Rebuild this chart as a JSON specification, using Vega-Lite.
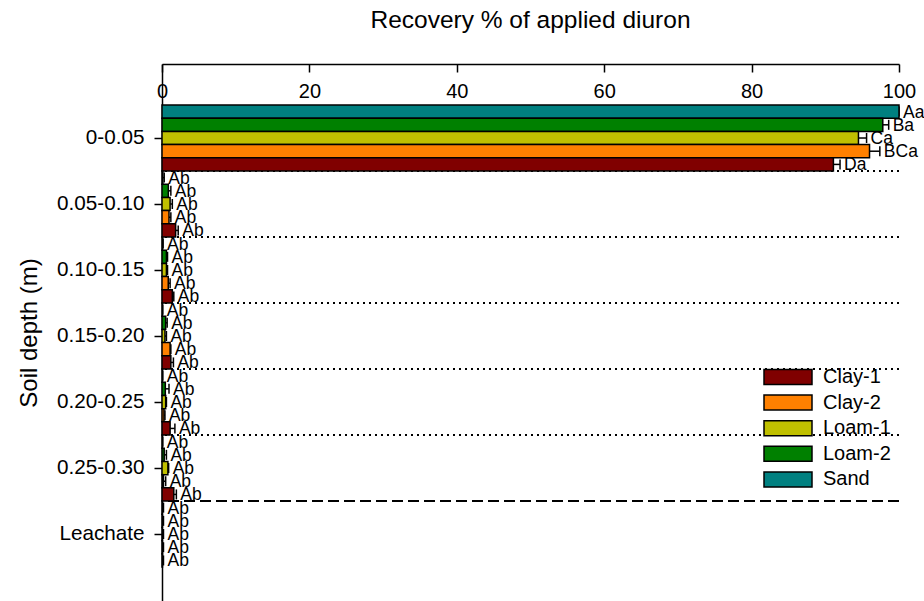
{
  "$schema": "https://vega.github.io/schema/vega-lite/v6.json",
  "width": 737,
  "height": 537,
  "autosize": {"type": "none"},
  "padding": {"left": 162, "top": 64, "right": 25, "bottom": 0},
  "background": "white",
  "title": {"text": "Recovery % of applied diuron", "fontSize": 24.5, "font": "Liberation Sans", "fontWeight": "normal", "color": "black", "offset": 30, "anchor": "middle"},
  "config": {
    "font": "Liberation Sans",
    "view": {"stroke": null},
    "axis": {"domainColor": "black", "tickColor": "black", "labelColor": "black", "titleColor": "black", "domainWidth": 1.5, "tickWidth": 1.5, "grid": false, "labelFont": "Liberation Sans", "titleFont": "Liberation Sans", "titleFontWeight": "normal"}
  },
  "datasets": {
    "rec": [
      {"depth": "0-0.05", "soil": "Sand", "mean": 100, "upper": 100, "label": "Aa"},
      {"depth": "0-0.05", "soil": "Loam-2", "mean": 97.8, "upper": 98.6, "label": "Ba"},
      {"depth": "0-0.05", "soil": "Loam-1", "mean": 94.5, "upper": 95.6, "label": "Ca"},
      {"depth": "0-0.05", "soil": "Clay-2", "mean": 96.0, "upper": 97.4, "label": "BCa"},
      {"depth": "0-0.05", "soil": "Clay-1", "mean": 91.1, "upper": 92.0, "label": "Da"},
      {"depth": "0.05-0.10", "soil": "Sand", "mean": 0.1, "upper": 0.3, "label": "Ab"},
      {"depth": "0.05-0.10", "soil": "Loam-2", "mean": 0.86, "upper": 1.2, "label": "Ab"},
      {"depth": "0.05-0.10", "soil": "Loam-1", "mean": 1.1, "upper": 1.4, "label": "Ab"},
      {"depth": "0.05-0.10", "soil": "Clay-2", "mean": 0.95, "upper": 1.2, "label": "Ab"},
      {"depth": "0.05-0.10", "soil": "Clay-1", "mean": 1.85, "upper": 2.2, "label": "Ab"},
      {"depth": "0.10-0.15", "soil": "Sand", "mean": 0.05, "upper": 0.15, "label": "Ab"},
      {"depth": "0.10-0.15", "soil": "Loam-2", "mean": 0.6, "upper": 0.75, "label": "Ab"},
      {"depth": "0.10-0.15", "soil": "Loam-1", "mean": 0.6, "upper": 0.75, "label": "Ab"},
      {"depth": "0.10-0.15", "soil": "Clay-2", "mean": 0.85, "upper": 1.1, "label": "Ab"},
      {"depth": "0.10-0.15", "soil": "Clay-1", "mean": 1.4, "upper": 1.6, "label": "Ab"},
      {"depth": "0.15-0.20", "soil": "Sand", "mean": 0.02, "upper": 0.1, "label": "Ab"},
      {"depth": "0.15-0.20", "soil": "Loam-2", "mean": 0.5, "upper": 0.7, "label": "Ab"},
      {"depth": "0.15-0.20", "soil": "Loam-1", "mean": 0.4, "upper": 0.6, "label": "Ab"},
      {"depth": "0.15-0.20", "soil": "Clay-2", "mean": 1.1, "upper": 1.2, "label": "Ab"},
      {"depth": "0.15-0.20", "soil": "Clay-1", "mean": 1.2, "upper": 1.55, "label": "Ab"},
      {"depth": "0.20-0.25", "soil": "Sand", "mean": 0.02, "upper": 0.1, "label": "Ab"},
      {"depth": "0.20-0.25", "soil": "Loam-2", "mean": 0.45, "upper": 0.95, "label": "Ab"},
      {"depth": "0.20-0.25", "soil": "Loam-1", "mean": 0.5, "upper": 0.6, "label": "Ab"},
      {"depth": "0.20-0.25", "soil": "Clay-2", "mean": 0.27, "upper": 0.4, "label": "Ab"},
      {"depth": "0.20-0.25", "soil": "Clay-1", "mean": 1.1, "upper": 1.75, "label": "Ab"},
      {"depth": "0.25-0.30", "soil": "Sand", "mean": 0.02, "upper": 0.1, "label": "Ab"},
      {"depth": "0.25-0.30", "soil": "Loam-2", "mean": 0.3, "upper": 0.6, "label": "Ab"},
      {"depth": "0.25-0.30", "soil": "Loam-1", "mean": 0.8, "upper": 0.9, "label": "Ab"},
      {"depth": "0.25-0.30", "soil": "Clay-2", "mean": 0.2, "upper": 0.5, "label": "Ab"},
      {"depth": "0.25-0.30", "soil": "Clay-1", "mean": 1.6, "upper": 1.95, "label": "Ab"},
      {"depth": "Leachate", "soil": "Sand", "mean": 0.03, "upper": 0.2, "label": "Ab"},
      {"depth": "Leachate", "soil": "Loam-2", "mean": 0.05, "upper": 0.2, "label": "Ab"},
      {"depth": "Leachate", "soil": "Loam-1", "mean": 0.04, "upper": 0.2, "label": "Ab"},
      {"depth": "Leachate", "soil": "Clay-2", "mean": 0.05, "upper": 0.2, "label": "Ab"},
      {"depth": "Leachate", "soil": "Clay-1", "mean": 0.06, "upper": 0.2, "label": "Ab"}
    ]
  },
  "layer": [
    {
      "data": {"values": [{"depth": "0-0.05"}, {"depth": "0.05-0.10"}, {"depth": "0.10-0.15"}, {"depth": "0.15-0.20"}, {"depth": "0.20-0.25"}]},
      "mark": {"type": "rule", "strokeDash": [2, 4], "strokeWidth": 2, "color": "black"},
      "encoding": {
        "y": {"field": "depth", "type": "nominal", "bandPosition": 1}
      }
    },
    {
      "data": {"values": [{"depth": "0.25-0.30"}]},
      "mark": {"type": "rule", "strokeDash": [11, 5], "strokeWidth": 2, "color": "black"},
      "encoding": {
        "y": {"field": "depth", "type": "nominal", "bandPosition": 1}
      }
    },
    {
      "data": {"name": "rec"},
      "mark": {"type": "rule", "strokeWidth": 1.5, "color": "black"},
      "encoding": {
        "x": {"field": "mean", "type": "quantitative"},
        "x2": {"field": "upper"},
        "y": {"field": "depth", "type": "nominal"},
        "yOffset": {"field": "soil", "type": "nominal", "sort": ["Sand", "Loam-2", "Loam-1", "Clay-2", "Clay-1"]}
      }
    },
    {
      "data": {"name": "rec"},
      "mark": {"type": "tick", "thickness": 1.5, "size": 10, "color": "black", "opacity": 1},
      "encoding": {
        "x": {"field": "upper", "type": "quantitative"},
        "y": {"field": "depth", "type": "nominal"},
        "yOffset": {"field": "soil", "type": "nominal", "sort": ["Sand", "Loam-2", "Loam-1", "Clay-2", "Clay-1"]}
      }
    },
    {
      "data": {"name": "rec"},
      "mark": {"type": "bar", "stroke": "black", "strokeWidth": 1.5, "opacity": 1},
      "encoding": {
        "x": {"field": "mean", "type": "quantitative", "scale": {"domain": [0, 100], "nice": false, "zero": true},
              "axis": {"orient": "top", "title": null, "values": [0, 20, 40, 60, 80, 100], "tickSize": -8, "labelPadding": -29, "labelFontSize": 20, "labelFlush": false}},
        "y": {"field": "depth", "type": "nominal",
              "scale": {"domain": ["0-0.05", "0.05-0.10", "0.10-0.15", "0.15-0.20", "0.20-0.25", "0.25-0.30", "Leachate"], "paddingInner": 0, "paddingOuter": 0.568, "align": 0.547},
              "axis": {"title": "Soil depth (m)", "titleFontSize": 24, "titlePadding": 15, "labelFontSize": 20.7, "tickSize": 8, "labelPadding": 10}},
        "yOffset": {"field": "soil", "type": "nominal", "sort": ["Sand", "Loam-2", "Loam-1", "Clay-2", "Clay-1"], "scale": {"paddingInner": 0, "paddingOuter": 0}},
        "color": {"field": "soil", "type": "nominal",
                  "scale": {"domain": ["Clay-1", "Clay-2", "Loam-1", "Loam-2", "Sand"], "range": ["#800000", "#ff8000", "#c0c000", "#008000", "#008080"]},
                  "legend": {"title": null, "orient": "none", "legendX": 601, "legendY": 303, "symbolType": "M-1,-0.3125H1V0.3125H-1Z", "symbolSize": 2304, "symbolStrokeColor": "black", "symbolStrokeWidth": 1.5, "symbolOpacity": 1, "labelFontSize": 20, "labelFont": "Liberation Sans", "labelColor": "black", "clipHeight": 20, "rowPadding": 5.6, "labelOffset": 10, "padding": 0}}
      }
    },
    {
      "data": {"name": "rec"},
      "mark": {"type": "text", "align": "left", "baseline": "middle", "dx": 4, "dy": 1, "fontSize": 17.5, "color": "black"},
      "encoding": {
        "x": {"field": "upper", "type": "quantitative"},
        "y": {"field": "depth", "type": "nominal"},
        "yOffset": {"field": "soil", "type": "nominal", "sort": ["Sand", "Loam-2", "Loam-1", "Clay-2", "Clay-1"]},
        "text": {"field": "label"}
      }
    }
  ]
}
